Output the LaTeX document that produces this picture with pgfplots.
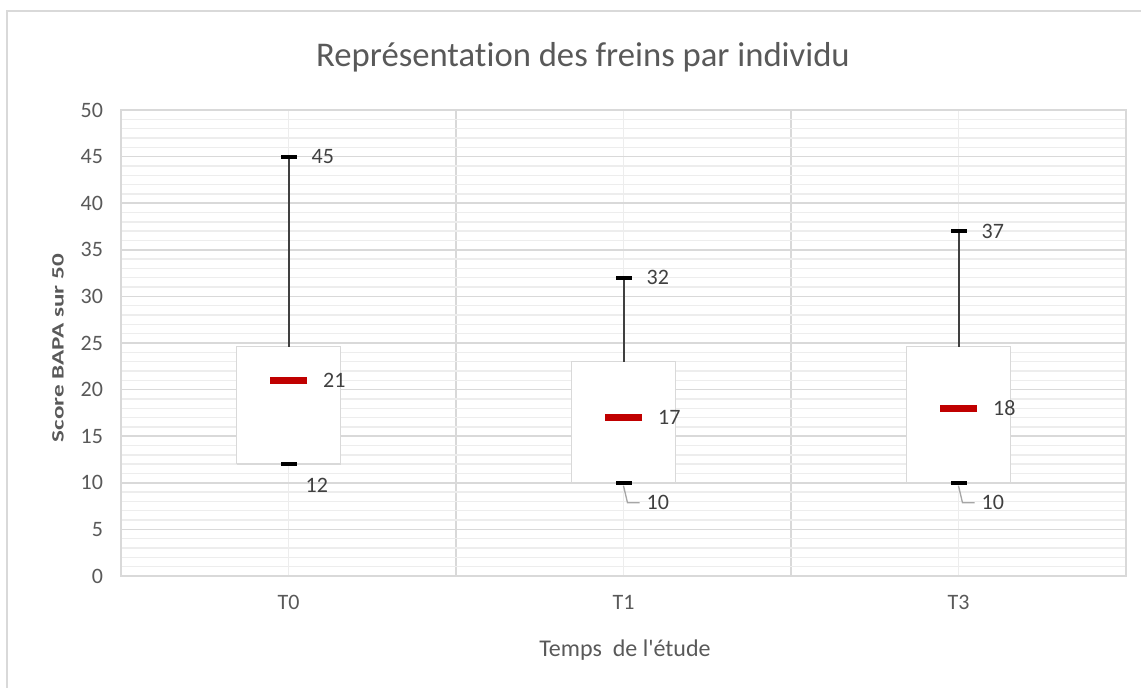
\documentclass[border=0pt]{standalone}
\usepackage{pgfplots}
\pgfplotsset{compat=1.18}
\usepackage{fontspec}
\setmainfont{Carlito}[Ligatures=NoCommon]
\definecolor{txt}{HTML}{595959}
\definecolor{lbl}{HTML}{404040}
\definecolor{gmaj}{HTML}{D9D9D9}
\definecolor{gmin}{HTML}{EDEDED}
\definecolor{medred}{HTML}{C00000}
\definecolor{lead}{HTML}{A6A6A6}
\begin{document}
\begin{tikzpicture}
\useasboundingbox (0pt,0pt) rectangle (855.75pt,516pt);
\draw[gmaj, line width=1.2pt] (855.75pt,507.75pt) -- (5.25pt,507.75pt) -- (5.25pt,0pt);
\node[text=txt, font=\fontsize{26}{30}\selectfont] at (437.25pt,473.25pt) {Représentation des freins par individu};
\node[text=txt, font=\fontsize{18}{21}\selectfont] at (468.75pt,28.5pt) {Temps\ \ de l\textquotesingle\'etude};
\node[text=txt, rotate=90, font=\fontsize{13}{15}\selectfont\bfseries] at (43.5pt,255pt) {\scalebox{1.45}[1]{Score BAPA sur 50}};
\begin{axis}[
  at={(90.75pt,84pt)}, anchor=south west, scale only axis,
  width=753.75pt, height=349.5pt,
  xmin=-0.5, xmax=2.5, ymin=0, ymax=50,
  xtick={-0.5,0.5,1.5,2.5}, xticklabels={},
  minor xtick={0,1,2},
  extra x ticks={0,1,2}, extra x tick labels={T0,T1,T3},
  extra x tick style={grid=none},
  ytick={0,5,...,50},
  minor y tick num=4,
  xmajorgrids, xminorgrids, ymajorgrids, yminorgrids,
  major grid style={gmaj, line width=1.2pt},
  minor grid style={gmin, line width=1pt},
  major tick length=0pt, minor tick length=0pt,
  axis line style={gmaj, line width=1.2pt},
  ticklabel style={font=\fontsize{16.5}{19}\selectfont, text=txt},
  yticklabel style={xshift=-10pt},
  xticklabel style={yshift=-11pt},
  /pgf/number format/assume math mode=true,
  clip=false,
  every node near coord/.append style={font=\fontsize{16.5}{19}\selectfont, text=lbl, anchor=west},
]
% boxes (bottom 12/10 to top 24.6/23/24.6), half width 0.155
\addplot[draw=gmaj, fill=white, line width=1pt] coordinates {(-0.155,12) (0.155,12) (0.155,24.6) (-0.155,24.6) (-0.155,12)};
\addplot[draw=gmaj, fill=white, line width=1pt] coordinates {(0.845,10) (1.155,10) (1.155,23) (0.845,23) (0.845,10)};
\addplot[draw=gmaj, fill=white, line width=1pt] coordinates {(1.845,10) (2.155,10) (2.155,24.6) (1.845,24.6) (1.845,10)};
% upper whiskers
\addplot[lbl, line width=1.5pt] coordinates {(0,24.6) (0,45)};
\addplot[lbl, line width=1.5pt] coordinates {(1,23) (1,32)};
\addplot[lbl, line width=1.5pt] coordinates {(2,24.6) (2,37)};
% max caps
\addplot[only marks, mark=-, mark size=6pt, mark options={line width=3pt, black},
  nodes near coords, point meta=y, every node near coord/.append style={xshift=12.5pt}]
  coordinates {(0,45) (1,32) (2,37)};
% min caps
\addplot[only marks, mark=-, mark size=6pt, mark options={line width=3pt, black},
  nodes near coords, point meta=y, every node near coord/.append style={xshift=8pt, yshift=-15.75pt}]
  coordinates {(0,12)};
\addplot[only marks, mark=-, mark size=6pt, mark options={line width=3pt, black},
  nodes near coords, point meta=y, every node near coord/.append style={xshift=12.5pt, yshift=-15pt}]
  coordinates {(1,10) (2,10)};
% medians
\addplot[only marks, mark=-, mark size=13.9pt, mark options={line width=5.25pt, medred},
  nodes near coords, point meta=y, every node near coord/.append style={xshift=20pt}]
  coordinates {(0,21) (1,17) (2,18)};
% leader lines
\draw[lead, line width=1pt] ([yshift=-2.25pt]axis cs:1,10) -- ([xshift=3pt,yshift=-15pt]axis cs:1,10) -- ([xshift=12pt,yshift=-15pt]axis cs:1,10);
\draw[lead, line width=1pt] ([yshift=-2.25pt]axis cs:2,10) -- ([xshift=3pt,yshift=-15pt]axis cs:2,10) -- ([xshift=12pt,yshift=-15pt]axis cs:2,10);
\end{axis}
\end{tikzpicture}
\end{document}
